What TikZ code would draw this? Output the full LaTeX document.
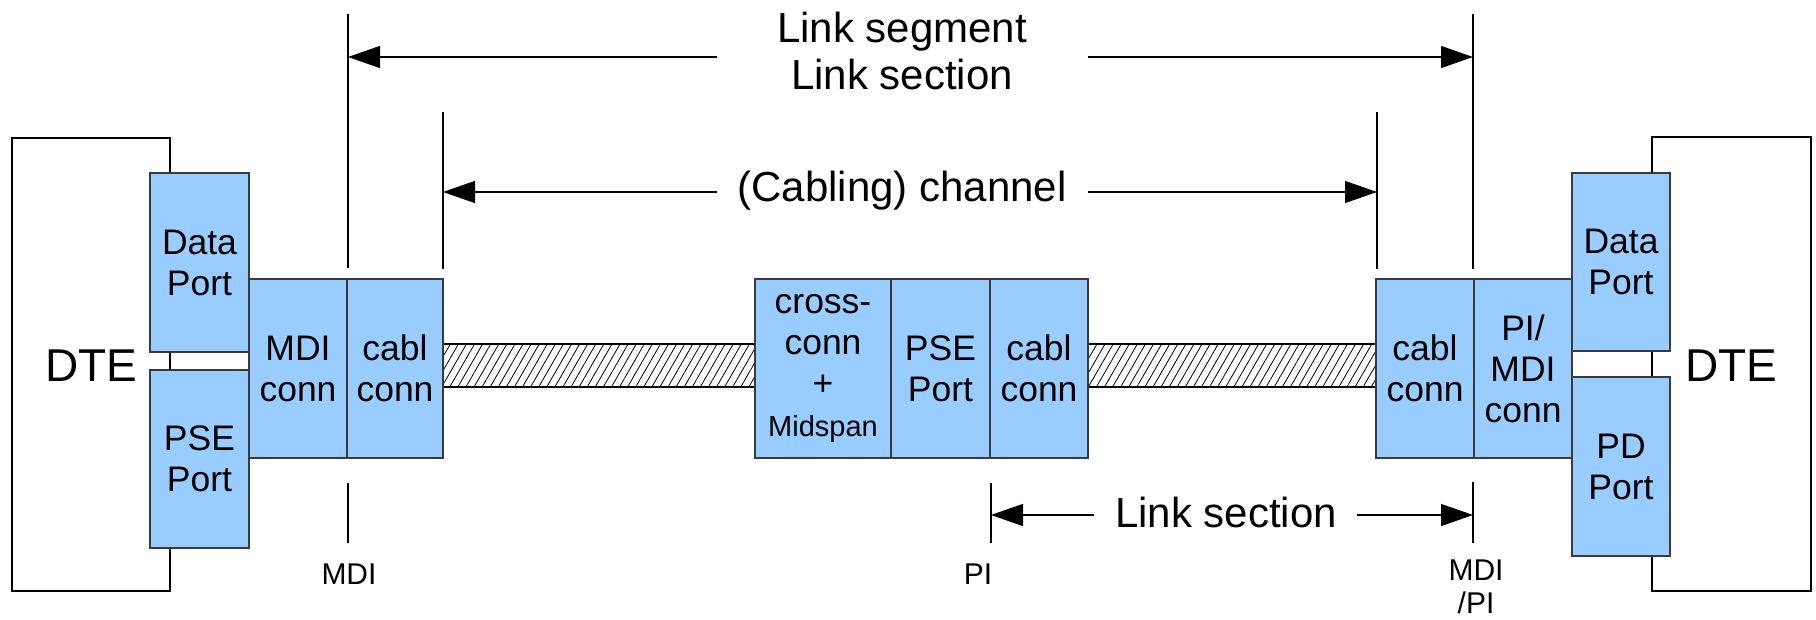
\documentclass[tikz,border=0pt]{standalone}
\usepackage{fontspec}
\setmainfont{Liberation Sans}
\usetikzlibrary{arrows.meta,patterns.meta}
\definecolor{boxblue}{HTML}{99CCFF}
\definecolor{boxline}{HTML}{3A3A3A}
\begin{document}
\begin{tikzpicture}[x=1pt,y=-1pt,
  box/.style={draw=boxline, fill=boxblue, line width=1.3pt, inner sep=0pt, align=center, font=\fontsize{35.5}{41}\selectfont},
  frame/.style={draw=black, line width=1.3pt},
  vline/.style={draw=black, line width=1.3pt},
  dim/.style={draw=black, line width=1.3pt, -{Triangle[length=32pt,width=22pt]}},
  big/.style={font=\fontsize{42}{47}\selectfont, align=center, inner sep=0pt},
  small/.style={font=\fontsize{30}{33}\selectfont, align=center, inner sep=0pt},
  dte/.style={font=\fontsize{46}{56}\selectfont, inner sep=0pt},
  cable/.style={draw=black, line width=1.1pt, inner sep=0pt, pattern={Lines[angle=60,distance=7pt,line width=0.8pt]}},
]
\useasboundingbox (0,0) rectangle (1816,620);

% DTE frames
\draw[frame] (12,138) rectangle (170,591);
\draw[frame] (1652,137) rectangle (1811,591);
\node[dte] (dteL) at (91,366) {DTE};
\node[dte] (dteR) at (1731,366) {DTE};

% cables
\node[cable, minimum width=312, minimum height=43] (bar1) at (599,365.5) {};
\node[cable, minimum width=288, minimum height=43] (bar2) at (1232,365.5) {};

% boxes
\node[box, minimum width=99, minimum height=179] (dpL) at (199.5,262.5) {Data\\Port};
\node[box, minimum width=99, minimum height=178] (pseL) at (199.5,459) {PSE\\Port};
\node[box, minimum width=98, minimum height=179] (mdiL) at (298,368.5) {MDI\\conn};
\node[box, minimum width=96, minimum height=179] (cabL) at (395,368.5) {cabl\\conn};
\node[box, minimum width=136, minimum height=179] (xc) at (823,368.5) {cross-\\conn\\+\\{\fontsize{29}{31}\selectfont Midspan}};
\node[box, minimum width=99, minimum height=179] (pseM) at (940.5,368.5) {PSE\\Port};
\node[box, minimum width=98, minimum height=179] (cabM) at (1039,368.5) {cabl\\conn};
\node[box, minimum width=98, minimum height=179] (cabR) at (1425,368.5) {cabl\\conn};
\node[box, minimum width=98, minimum height=179] (mdiR) at (1523,368.5) {PI/\\MDI\\conn};
\node[box, minimum width=98, minimum height=178] (dpR) at (1621,262) {Data\\Port};
\node[box, minimum width=98, minimum height=179] (pdR) at (1621,466.5) {PD\\Port};

% reference lines
\coordinate (mdiA) at (348,14);   \coordinate (mdiB) at (348,268);
\coordinate (mdiC) at (348,483);  \coordinate (mdiD) at (348,543);
\coordinate (chLA) at (443,112);  \coordinate (chLB) at (443,269);
\coordinate (piA) at (991,483);   \coordinate (piB) at (991,543);
\coordinate (chRA) at (1377,112); \coordinate (chRB) at (1377,269);
\coordinate (mdRA) at (1473,14);  \coordinate (mdRB) at (1473,269);
\coordinate (mdRC) at (1473,482); \coordinate (mdRD) at (1473,543);
\draw[vline] (mdiA) -- (mdiB);
\draw[vline] (mdiC) -- (mdiD);
\draw[vline] (chLA) -- (chLB);
\draw[vline] (piA) -- (piB);
\draw[vline] (chRA) -- (chRB);
\draw[vline] (mdRA) -- (mdRB);
\draw[vline] (mdRC) -- (mdRD);

% dimension labels
\node[big] (seg) at (902,51) {Link segment\\Link section};
\node[big] (chan) at (902,191) {(Cabling) channel};
\node[big] (sect) at (1226,512) {Link section};

% dimension arrows
\coordinate (segL) at (717,57);   \coordinate (segLt) at (348,57);
\coordinate (segR) at (1088,57);  \coordinate (segRt) at (1473,57);
\coordinate (chL) at (717,192);   \coordinate (chLt) at (443,192);
\coordinate (chR) at (1088,192);  \coordinate (chRt) at (1377,192);
\coordinate (seL) at (1094,515);  \coordinate (seLt) at (991,515);
\coordinate (seR) at (1357,515);  \coordinate (seRt) at (1473,515);
\draw[dim] (segL) -- (segLt);
\draw[dim] (segR) -- (segRt);
\draw[dim] (chL) -- (chLt);
\draw[dim] (chR) -- (chRt);
\draw[dim] (seL) -- (seLt);
\draw[dim] (seR) -- (seRt);

% interface labels
\node[small] (lblMDI) at (349,574) {MDI};
\node[small] (lblPI) at (978,574) {PI};
\node[small, anchor=north] (lblMDIPI) at (1476,560) {MDI\\/PI};
\end{tikzpicture}
\end{document}
